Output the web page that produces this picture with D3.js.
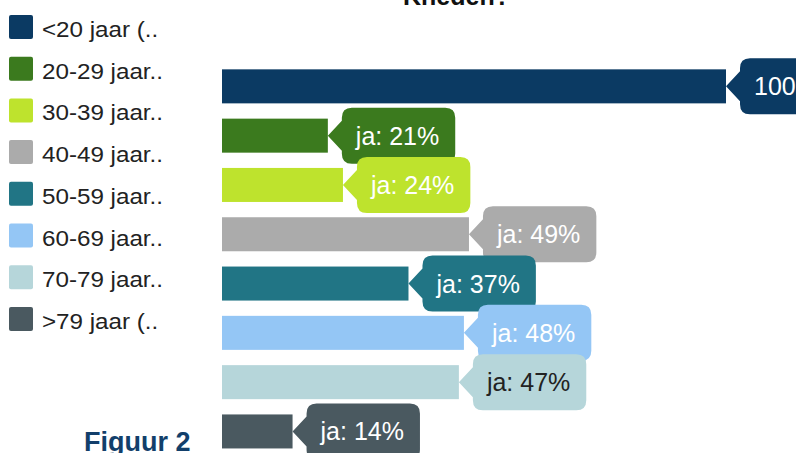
<!DOCTYPE html>
<html>
<head>
<meta charset="utf-8">
<script src="https://cdn.jsdelivr.net/npm/d3@7/dist/d3.min.js"></script>
<style>
  body { margin: 0; background: #fff; }
  svg { display: block; font-family: "Liberation Sans", Arial, sans-serif; }
</style>
</head>
<body>
<script>
// Data
const categories = ['<20 jaar (..', '20-29 jaar..', '30-39 jaar..', '40-49 jaar..',
                    '50-59 jaar..', '60-69 jaar..', '70-79 jaar..', '>79 jaar (..'];
const values = [100, 21, 24, 49, 37, 48, 47, 14];
const labels = ['100%', 'ja: 21%', 'ja: 24%', 'ja: 49%', 'ja: 37%', 'ja: 48%', 'ja: 47%', 'ja: 14%'];
const colors = ['#0b3a63', '#3b7a1e', '#bee32d', '#ababab', '#217585', '#94c6f5', '#b6d6da', '#4a5960'];
const labelColors = ['#fff', '#fff', '#fff', '#fff', '#fff', '#fff', '#222', '#fff'];

const width = 796;
const height = 453;

const svg = d3.select('body')
  .append('svg')
  .attr('width', width)
  .attr('height', height);

// Title (cropped at top of the picture)
svg.append('text')
  .attr('x', 403)
  .attr('y', 4.5)
  .attr('font-size', '25px')
  .attr('font-weight', 'bold')
  .attr('fill', '#111')
  .text('Kneden?');

// Scales
const x = d3.scaleLinear()
  .domain([0, 100])
  .range([222, 726]);

const y = d3.scaleBand()
  .domain(categories)
  .range([61.7, 456.1])
  .paddingInner(0.31)
  .paddingOuter(0.155);

// Legend
const legend = svg.append('g')
  .selectAll('g')
  .data(categories)
  .join('g')
  .attr('transform', (d, i) => `translate(9, ${15 + i * 41.7})`);

legend.append('rect')
  .attr('width', 24)
  .attr('height', 24)
  .attr('rx', 2)
  .attr('fill', (d, i) => colors[i]);

// text is a little wider in the picture, stretch it sideways
legend.append('text')
  .attr('transform', 'translate(33, 22) scale(1.1, 1)')
  .attr('font-size', '22px')
  .attr('fill', '#222')
  .text(d => d);

// Bars
svg.append('g')
  .selectAll('rect')
  .data(values)
  .join('rect')
  .attr('x', x(0))
  .attr('y', (d, i) => y(categories[i]))
  .attr('width', d => x(d) - x(0))
  .attr('height', y.bandwidth())
  .attr('fill', (d, i) => colors[i]);

// Callouts
const gap = 14, boxH = 56, arrowH = 15, r = 10, pad = 14;

const callouts = svg.append('g')
  .selectAll('g')
  .data(values)
  .join('g')
  .attr('transform', (d, i) => `translate(${x(d)}, ${y(categories[i]) + y.bandwidth() / 2})`);

const shapes = callouts.append('path')
  .attr('fill', (d, i) => colors[i]);

const txt = callouts.append('text')
  .attr('x', gap + pad)
  .attr('y', 9)
  .attr('font-size', '25px')
  .attr('fill', (d, i) => labelColors[i])
  .text((d, i) => labels[i]);

shapes.attr('d', function(d, i) {
  const w = txt.nodes()[i].getComputedTextLength() + 2 * pad + 2;
  const x0 = gap, x1 = gap + w, t = -boxH / 2, b = boxH / 2;
  return `M0,0 L${x0},${-arrowH} L${x0},${t + r} Q${x0},${t} ${x0 + r},${t}
          L${x1 - r},${t} Q${x1},${t} ${x1},${t + r} L${x1},${b - r} Q${x1},${b} ${x1 - r},${b}
          L${x0 + r},${b} Q${x0},${b} ${x0},${b - r} L${x0},${arrowH} Z`;
});

// Figure caption
svg.append('text')
  .attr('x', 84)
  .attr('y', 451)
  .attr('font-size', '27px')
  .attr('font-weight', 'bold')
  .attr('fill', '#123f6b')
  .text('Figuur 2');
</script>
</body>
</html>
